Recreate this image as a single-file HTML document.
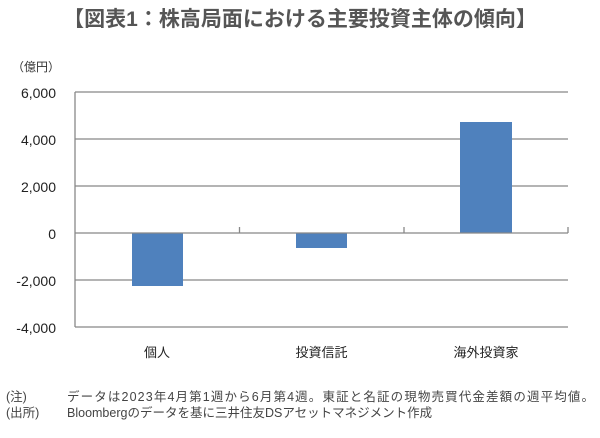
<!DOCTYPE html>
<html><head><meta charset="utf-8"><style>
body{margin:0;width:600px;height:433px;background:#fff;overflow:hidden;font-family:"Liberation Sans","Noto Sans CJK JP",sans-serif;}
</style></head><body>
<svg width="600" height="433" xmlns="http://www.w3.org/2000/svg" font-family="Liberation Sans, Noto Sans CJK JP, sans-serif">
<text x="300" y="26" text-anchor="middle" font-size="21" font-weight="bold" fill="#555">【図表1：株高局面における主要投資主体の傾向】</text>
<text x="12" y="71" font-size="12" fill="#333">（億円）</text>
<g stroke="#888" stroke-width="1.3">
<line x1="75" y1="92" x2="568" y2="92"/>
<line x1="75" y1="139" x2="568" y2="139"/>
<line x1="75" y1="186" x2="568" y2="186"/>
<line x1="75" y1="280" x2="568" y2="280"/>
<line x1="75" y1="327" x2="568" y2="327"/>
<line x1="75" y1="92" x2="75" y2="327"/>
</g>
<g fill="#4f81bd">
<rect x="132" y="233" width="51" height="53"/>
<rect x="296" y="233" width="51" height="15"/>
<rect x="460" y="122" width="52" height="111"/>
</g>
<g stroke="#888" stroke-width="1.3">
<line x1="75" y1="233" x2="568" y2="233"/>
<line x1="239.5" y1="227" x2="239.5" y2="233"/>
<line x1="404" y1="227" x2="404" y2="233"/>
<line x1="568" y1="227" x2="568" y2="233"/>
</g>
<g font-size="14" fill="#222" text-anchor="end">
<text x="56" y="98">6,000</text>
<text x="56" y="145">4,000</text>
<text x="56" y="192">2,000</text>
<text x="56" y="239">0</text>
<text x="56" y="286">-2,000</text>
<text x="56" y="333">-4,000</text>
</g>
<g font-size="13" fill="#222" text-anchor="middle">
<text x="157" y="357">個人</text>
<text x="321.5" y="357">投資信託</text>
<text x="486" y="357">海外投資家</text>
</g>
<g font-size="12.5" fill="#444">
<text x="6" y="401">(注)</text>
<text x="67" y="401" textLength="527">データは2023年4月第1週から6月第4週。東証と名証の現物売買代金差額の週平均値。</text>
<text x="6" y="417">(出所)</text>
<text x="67" y="417">Bloombergのデータを基に三井住友DSアセットマネジメント作成</text>
</g>
</svg>
</body></html>
